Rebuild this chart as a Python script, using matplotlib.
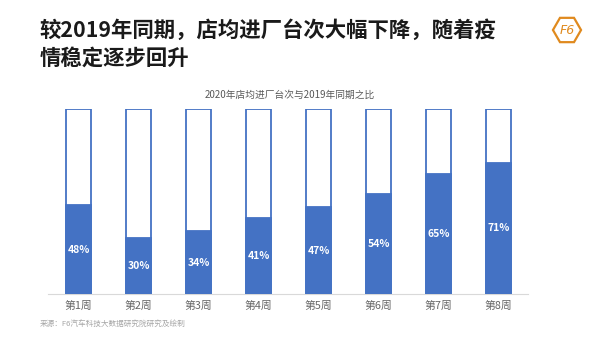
import numpy as np
import matplotlib.pyplot as plt
from matplotlib.patches import RegularPolygon

plt.rcParams['font.family'] = ['Noto Sans CJK SC', 'DejaVu Sans']

# data
weeks = ["第1周", "第2周", "第3周", "第4周", "第5周", "第6周", "第7周", "第8周"]
ratio = [48, 30, 34, 41, 47, 54, 65, 71]

blue = "#4472C4"
orange = "#E08A1E"

fig = plt.figure(figsize=(6, 3.37), dpi=100)
ax = fig.add_axes([0.08, 0.1276, 0.8, 0.549])

x = list(range(len(weeks)))
vals = [v / 100 for v in ratio]
# outline (100%) bars then filled part
ax.bar(x, [1] * len(x), width=0.42, color="white", edgecolor=blue, linewidth=1.3, zorder=2)
ax.bar(x, vals, width=0.42, color=blue, edgecolor=blue, linewidth=1.3, zorder=3)
for xi, v, r in zip(x, vals, ratio):
    ax.text(xi, v / 2, f"{r}%", color="white", fontsize=7.5, fontweight="bold",
            ha="center", va="center", zorder=4)

ax.set_xlim(-0.51, 7.49)
ax.set_ylim(0, 1.0)
ax.set_xticks(x)
ax.set_xticklabels(weeks, fontsize=7.8, color="#666666")
ax.tick_params(axis="x", length=0, pad=5)
ax.set_yticks([])
for s in ["top", "left", "right"]:
    ax.spines[s].set_visible(False)
ax.spines["bottom"].set_color("#d9d9d9")
ax.spines["bottom"].set_linewidth(0.8)

# titles
fig.text(0.066, 0.912, "较2019年同期，店均进厂台次大幅下降，随着疫", fontsize=15.4,
         fontweight="bold", color="#1a1a1a", va="center", ha="left")
fig.text(0.066, 0.828, "情稳定逐步回升", fontsize=15.4, fontweight="bold",
         color="#1a1a1a", va="center", ha="left")
fig.text(0.483, 0.72, "2020年店均进厂台次与2019年同期之比", fontsize=7,
         color="#595959", ha="center", va="center")
fig.text(0.067, 0.035, "来源：F6汽车科技大数据研究院研究及绘制", fontsize=5.5,
         color="#a6a6a6", ha="left", va="center")

# logo
lax = fig.add_axes([550 / 600, 1 - 45 / 337, 34 / 600, 30 / 337])
lax.set_xlim(-1.15, 1.15)
lax.set_ylim(-1.0, 1.0)
lax.set_aspect("equal")
lax.axis("off")
lax.add_patch(RegularPolygon((0, 0), numVertices=6, radius=0.95, orientation=np.pi / 6,
                             facecolor="none", edgecolor=orange, linewidth=1.6))
lax.text(0, -0.02, "F6", fontsize=9, fontstyle="italic", color=orange,
         ha="center", va="center", family="DejaVu Sans")

fig.savefig("out.png", dpi=100)
